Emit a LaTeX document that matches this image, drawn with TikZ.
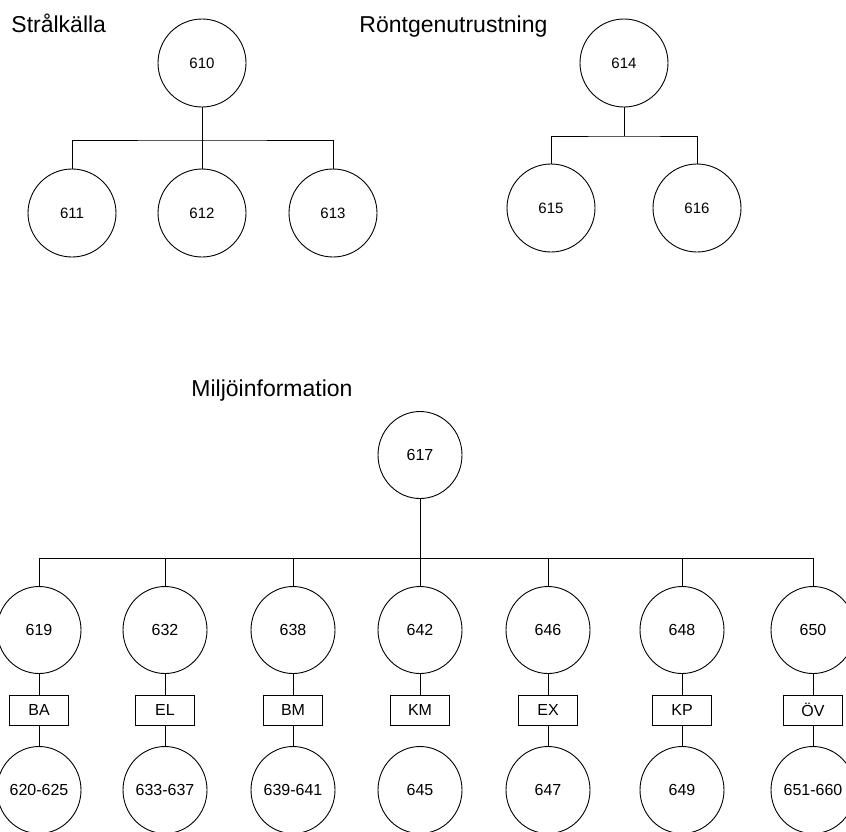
\documentclass[tikz,border=0pt]{standalone}
\usepackage{fontspec}
\setmainfont{Liberation Sans}
\usetikzlibrary{shapes.geometric}
\begin{document}
\begin{tikzpicture}[x=1pt,y=-1pt,line width=0.9pt,
  topcirc/.style={draw,circle,minimum size=88pt,inner sep=0pt,font=\fontsize{15}{18}\selectfont},
  lowcirc/.style={draw,ellipse,minimum width=84pt,minimum height=87pt,inner sep=0pt,font=\fontsize{16}{19}\selectfont},
  tagbox/.style={draw,rectangle,minimum width=59pt,minimum height=30pt,inner sep=0pt,font=\fontsize{16}{19}\selectfont},
  heading/.style={anchor=base west,inner sep=0pt,font=\fontsize{23}{27}\selectfont}]
\useasboundingbox (0,0) rectangle (846,831);

% headings
\node[heading] (h1) at (11,32) {Strålkälla};
\node[heading] (h2) at (359,32) {Röntgenutrustning};
\node[heading] (h3) at (191,396) {Miljöinformation};

% group 1
\node[topcirc] (n610) at (202,63) {610};
\node[topcirc] (n611) at (72,213) {611};
\node[topcirc] (n612) at (202,213) {612};
\node[topcirc] (n613) at (333,213) {613};
\coordinate (b1) at (202,140);
\draw (n610.south) -- (n612.north);
\draw (n611.north) |- (b1) -| (n613.north);

% group 2
\node[topcirc] (n614) at (624,63) {614};
\node[topcirc] (n615) at (551,208) {615};
\node[topcirc] (n616) at (697,208) {616};
\coordinate (b2) at (624,136);
\draw (n614.south) -- (b2);
\draw (n615.north) |- (b2) -| (n616.north);

% group 3
\node[lowcirc] (n617) at (420,455) {617};
\coordinate (b3) at (420,558);
\draw (n617.south) -- (b3);

\foreach \x/\a/\t/\b/\ln in {39/619/BA/620-625/1,165/632/EL/633-637/1,293/638/BM/639-641/1,420/642/KM/645/0,548/646/EX/647/1,682/648/KP/649/1,813/650/ÖV/651-660/1}{
  \node[lowcirc] (u\a) at (\x,630) {\a};
  \node[tagbox] (t\a) at (\x,710) {\t};
  \node[lowcirc] (d\a) at (\x,790) {\b};
  \draw (u\a.north) -- (u\a.north |- b3);
  \draw (u\a.south) -- (t\a.north);
  \ifnum\ln=1 \draw (t\a.south) -- (d\a.north);\fi
}
\draw (u619.north |- b3) -- (u650.north |- b3);
\end{tikzpicture}
\end{document}
